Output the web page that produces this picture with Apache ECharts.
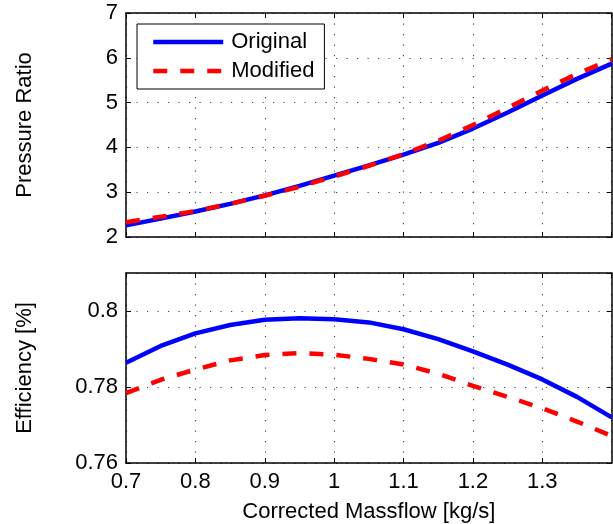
<!DOCTYPE html>
<html>
<head>
<meta charset="utf-8">
<title>Compressor map comparison</title>
<script src="https://cdn.jsdelivr.net/npm/echarts@6/dist/echarts.min.js"></script>
<style>
  html, body { margin: 0; padding: 0; background: #fff; }
  #chart { width: 613px; height: 524px; }
</style>
</head>
<body>
<div id="chart"></div>
<script>
// Corrected massflow [kg/s] sample points
const massflow = [0.7, 0.75, 0.8, 0.85, 0.9, 0.95, 1.0, 1.05, 1.1, 1.15, 1.2, 1.25, 1.3, 1.35, 1.4];

// Pressure ratio
const prOriginal = [2.26, 2.41, 2.57, 2.74, 2.93, 3.14, 3.37, 3.60, 3.84, 4.10, 4.42, 4.78, 5.16, 5.53, 5.87];
const prModified = [2.33, 2.45, 2.58, 2.74, 2.92, 3.12, 3.35, 3.59, 3.85, 4.15, 4.50, 4.88, 5.27, 5.64, 5.97];

// Isentropic efficiency
const effOriginal = [0.7864, 0.7908, 0.7941, 0.7963, 0.7977, 0.7981, 0.7978, 0.7970, 0.7952, 0.7926, 0.7894, 0.7859, 0.7820, 0.7774, 0.7720];
const effModified = [0.7784, 0.7819, 0.7846, 0.7870, 0.7884, 0.7889, 0.7885, 0.7874, 0.7859, 0.7835, 0.7803, 0.7774, 0.7744, 0.7709, 0.7671];

const seriesNames = ['Original', 'Modified'];
const xLabelText = 'Corrected Massflow [kg/s]';
const yLabelTop = 'Pressure Ratio';
const yLabelBottom = 'Efficiency [%]';

const FONT = "'Liberation Sans', Arial, Helvetica, sans-serif";
const BLUE = '#0000ff';
const RED = '#ff0000';
const LINE_W = 4.5;

const pairs = (ys) => massflow.map((x, i) => [x, ys[i]]);

const frameLine = { show: true, onZero: false, lineStyle: { color: '#000', width: 1.5 } };
const innerTick = { show: true, inside: true, length: 5, lineStyle: { color: '#000', width: 1 } };
const dotGrid = { show: true, lineStyle: { color: '#444', width: 1.1, type: [1.2, 9.3] } };
const tickFont = { color: '#000', fontSize: 22, fontFamily: FONT };

function xAxisDef(gridIndex, position, showLabels, withGrid, name) {
  return {
    type: 'value', gridIndex, position,
    min: 0.7, max: 1.4, interval: 0.1,
    axisLine: frameLine, axisTick: innerTick,
    splitLine: withGrid ? dotGrid : { show: false },
    axisLabel: showLabels
      ? Object.assign({ show: true, margin: 8, showMaxLabel: false }, tickFont)
      : { show: false },
    name: name || '',
    nameLocation: 'middle', nameGap: 38,
    nameTextStyle: { color: '#000', fontSize: 22, fontFamily: FONT }
  };
}

function yAxisDef(gridIndex, position, min, max, interval, showLabels, withGrid, name) {
  return {
    type: 'value', gridIndex, position,
    min, max, interval,
    axisLine: frameLine, axisTick: innerTick,
    splitLine: withGrid ? dotGrid : { show: false },
    axisLabel: showLabels
      ? Object.assign({ show: true, margin: 8, showMaxLabel: max === 7 }, tickFont)
      : { show: false },
    name: name || '',
    nameLocation: 'middle', nameGap: 90,
    nameTextStyle: { color: '#000', fontSize: 22, fontFamily: FONT }
  };
}

function lineSeries(name, xi, yi, ys, color, dashed) {
  return {
    name, type: 'line', xAxisIndex: xi, yAxisIndex: yi,
    data: pairs(ys), symbol: 'none', smooth: false,
    lineStyle: { color, width: LINE_W, type: dashed ? [14, 13] : 'solid', cap: 'butt' },
    itemStyle: { color },
    z: dashed ? 4 : 3
  };
}

const chart = echarts.init(document.getElementById('chart'), null, { renderer: 'canvas' });

chart.setOption({
  animation: false,
  backgroundColor: '#fff',
  grid: [
    { left: 126, right: 1.3, top: 13, height: 224 },
    { left: 126, right: 1.3, top: 273, height: 190 }
  ],
  xAxis: [
    xAxisDef(0, 'bottom', false, true),
    xAxisDef(0, 'top', false, false),
    xAxisDef(1, 'bottom', true, true, xLabelText),
    xAxisDef(1, 'top', false, false)
  ],
  yAxis: [
    yAxisDef(0, 'left', 2, 7, 1, true, true, yLabelTop),
    yAxisDef(0, 'right', 2, 7, 1, false, false),
    yAxisDef(1, 'left', 0.76, 0.81, 0.02, true, true, yLabelBottom),
    yAxisDef(1, 'right', 0.76, 0.81, 0.02, false, false)
  ],
  legend: {
    data: seriesNames,
    orient: 'vertical',
    left: 137, top: 24,
    padding: [7, 10, 7, 14],
    itemGap: 7,
    itemWidth: 70, itemHeight: 22,
    backgroundColor: '#fff',
    borderColor: '#000', borderWidth: 1,
    // plain line samples, no marker in the middle
    itemStyle: { opacity: 0 },
    lineStyle: { width: LINE_W },
    textStyle: { color: '#000', fontSize: 22, fontFamily: FONT, padding: [0, 0, 0, 3] }
  },
  series: [
    lineSeries(seriesNames[0], 0, 0, prOriginal, BLUE, false),
    lineSeries(seriesNames[1], 0, 0, prModified, RED, true),
    lineSeries(seriesNames[0], 2, 2, effOriginal, BLUE, false),
    lineSeries(seriesNames[1], 2, 2, effModified, RED, true)
  ]
});
</script>
</body>
</html>
